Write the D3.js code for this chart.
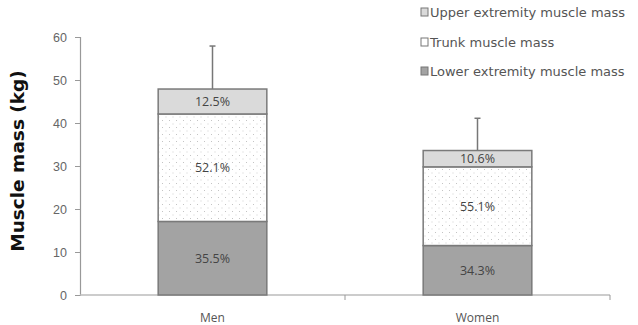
<!DOCTYPE html>
<html>
<head>
<meta charset="utf-8">
<script src="https://cdn.jsdelivr.net/npm/d3@7"></script>
<style>
  body { margin: 0; background: #fff; }
  svg { display: block; font-family: "Open Sans", "DejaVu Sans", sans-serif; }
</style>
</head>
<body>
<svg id="chart" width="638" height="325"></svg>
<script>
// chart data
const groups = ['Men', 'Women'];
const lowerMass = [17.1, 11.5];
const trunkMass = [25.0, 18.3];
const upperMass = [5.8, 3.8];
const errorTop = [57.9, 41.1];
const lowerPct = ['35.5%', '34.3%'];
const trunkPct = ['52.1%', '55.1%'];
const upperPct = ['12.5%', '10.6%'];
const yTicks = [0, 10, 20, 30, 40, 50, 60];
const legendLabels = ['Upper extremity muscle mass', 'Trunk muscle mass', 'Lower extremity muscle mass'];

const svg = d3.select('#chart');

// dotted fill for the trunk segment
const defs = svg.append('defs');
const pat = defs.append('pattern')
  .attr('id', 'dots')
  .attr('patternUnits', 'userSpaceOnUse')
  .attr('width', 7).attr('height', 7);
pat.append('rect').attr('width', 7).attr('height', 7).attr('fill', '#fff');
pat.append('rect').attr('x', 1).attr('y', 1).attr('width', 1).attr('height', 1).attr('fill', '#c4c4c4');
pat.append('rect').attr('x', 4.5).attr('y', 4.5).attr('width', 1).attr('height', 1).attr('fill', '#d0d0d0');

const x = d3.scaleBand()
  .domain(groups)
  .range([80, 610])
  .paddingInner(0.59)
  .paddingOuter(0.295);

const y = d3.scaleLinear()
  .domain([0, 60])
  .range([295, 37]);

// y axis
const yAxis = svg.append('g')
  .attr('transform', 'translate(80,0)')
  .call(d3.axisLeft(y).tickValues(yTicks).tickSize(5).tickPadding(8));
yAxis.select('.domain').attr('stroke', '#999').attr('stroke-width', 1.2);
yAxis.selectAll('.tick line').attr('stroke', '#999');
yAxis.selectAll('text').attr('fill', '#666').style('font-size', '12.5px');

// x axis line with category-boundary ticks
svg.append('line')
  .attr('x1', 80).attr('x2', 610)
  .attr('y1', y(0)).attr('y2', y(0))
  .attr('stroke', '#bbb').attr('stroke-width', 1.5);
groups.forEach((g, i) => {
  const px = x(g) + x.bandwidth() / 2 + x.step() / 2;
  svg.append('line')
    .attr('x1', px).attr('x2', px)
    .attr('y1', y(0)).attr('y2', y(0) + 5)
    .attr('stroke', '#999');
});

svg.selectAll('.cat')
  .data(groups)
  .enter()
  .append('text')
  .attr('x', d => x(d) + x.bandwidth() / 2)
  .attr('y', 322)
  .attr('text-anchor', 'middle')
  .attr('fill', '#555')
  .style('font-size', '12px')
  .text(d => d);

// y axis title
svg.append('text')
  .attr('transform', 'translate(24,161) rotate(-90)')
  .attr('text-anchor', 'middle')
  .attr('fill', '#111')
  .style('font-family', '"DejaVu Sans", sans-serif')
  .style('font-size', '18.5px')
  .style('font-weight', 'bold')
  .text('Muscle mass (kg)');

// stacked segments
const segments = [];
groups.forEach((g, i) => {
  const b0 = lowerMass[i];
  const b1 = b0 + trunkMass[i];
  const b2 = b1 + upperMass[i];
  segments.push({ g, y0: 0, y1: b0, fill: '#a3a3a3', label: lowerPct[i] });
  segments.push({ g, y0: b0, y1: b1, fill: 'url(#dots)', label: trunkPct[i] });
  segments.push({ g, y0: b1, y1: b2, fill: '#dadada', label: upperPct[i] });
});

// error bars (drawn behind bars)
svg.selectAll('.err')
  .data(groups)
  .enter()
  .append('line')
  .attr('x1', d => x(d) + x.bandwidth() / 2)
  .attr('x2', d => x(d) + x.bandwidth() / 2)
  .attr('y1', (d, i) => y(lowerMass[i] + trunkMass[i] + upperMass[i]))
  .attr('y2', (d, i) => y(errorTop[i]))
  .attr('stroke', '#777')
  .attr('stroke-width', 1.5);
svg.selectAll('.cap')
  .data(groups)
  .enter()
  .append('line')
  .attr('x1', d => x(d) + x.bandwidth() / 2 - 3)
  .attr('x2', d => x(d) + x.bandwidth() / 2 + 3)
  .attr('y1', (d, i) => y(errorTop[i]))
  .attr('y2', (d, i) => y(errorTop[i]))
  .attr('stroke', '#777')
  .attr('stroke-width', 1.5);

svg.selectAll('.seg')
  .data(segments)
  .enter()
  .append('rect')
  .attr('x', d => x(d.g))
  .attr('y', d => y(d.y1))
  .attr('width', x.bandwidth())
  .attr('height', d => y(d.y0) - y(d.y1))
  .attr('fill', d => d.fill)
  .attr('stroke', '#7a7a7a')
  .attr('stroke-width', 1.5);

svg.selectAll('.seglabel')
  .data(segments)
  .enter()
  .append('text')
  .attr('x', d => x(d.g) + x.bandwidth() / 2)
  .attr('y', d => (y(d.y0) + y(d.y1)) / 2 + 4.5)
  .attr('text-anchor', 'middle')
  .attr('fill', '#444')
  .style('font-size', '12.5px')
  .text(d => d.label);

// legend
const legendFills = ['#dadada', '#fff', '#a3a3a3'];
const legendY = [12, 42, 71];
const legend = svg.selectAll('.leg')
  .data(legendLabels)
  .enter()
  .append('g')
  .attr('transform', (d, i) => `translate(421,${legendY[i]})`);
legend.append('rect')
  .attr('x', 0).attr('y', -4)
  .attr('width', 7).attr('height', 8)
  .attr('fill', (d, i) => legendFills[i])
  .attr('stroke', '#777');
legend.append('text')
  .attr('x', 9)
  .attr('y', 4.5)
  .attr('fill', '#555')
  .style('font-family', '"DejaVu Sans", sans-serif')
  .style('font-size', '13px')
  .text(d => d);
</script>
</body>
</html>
